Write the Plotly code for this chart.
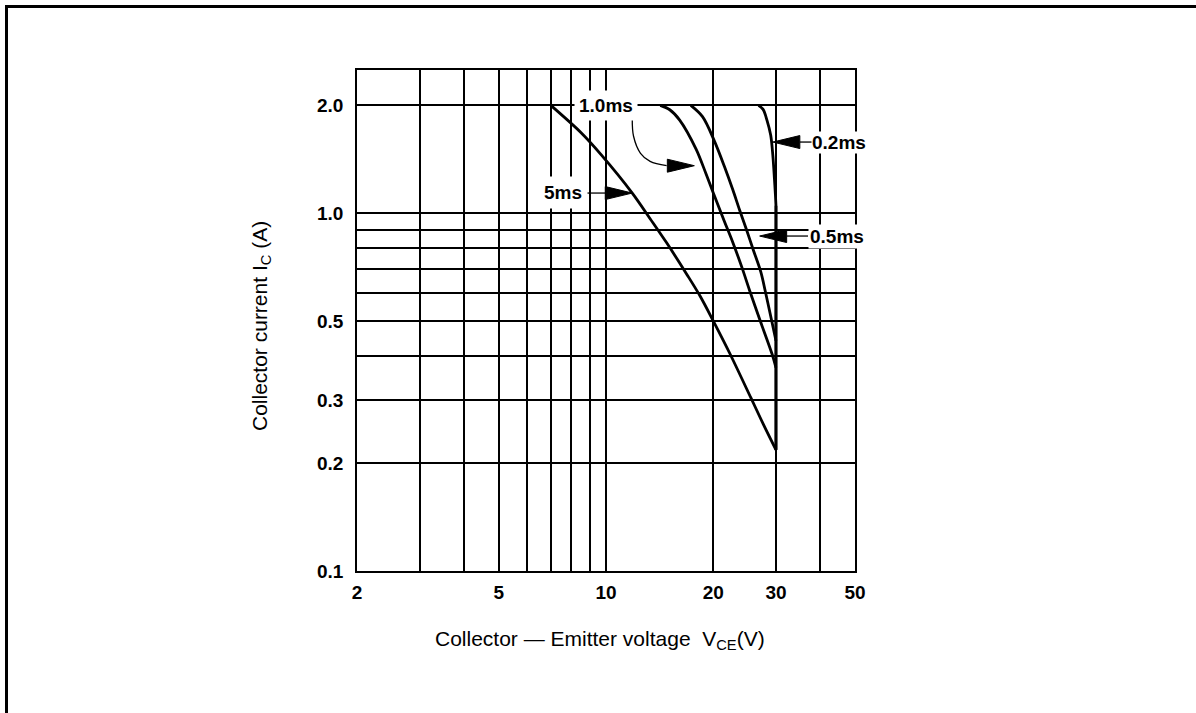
import numpy as np
import plotly.graph_objects as go

# ---------------- data ----------------
v_5ms = [7.0, 8.5, 9.7, 11.85, 13.3, 14.8, 16.9, 18.4, 20.0, 22.3, 25.5, 27.7, 30.0]
i_5ms = [2.0, 1.68, 1.455, 1.138, 0.965, 0.826, 0.672, 0.585, 0.50, 0.404, 0.305, 0.256, 0.218]

v_1ms = [14.2, 15.1, 16.1, 17.9, 19.05, 20.1, 21.5, 22.7, 24.1, 25.3, 27.0, 29.3, 30.0]
i_1ms = [2.0, 1.945, 1.82, 1.51, 1.295, 1.125, 0.948, 0.828, 0.703, 0.608, 0.505, 0.402, 0.37]

v_05ms = [17.3, 18.66, 20.1, 21.5, 22.7, 23.7, 24.8, 25.9, 27.2, 28.0, 29.0, 30.0]
i_05ms = [2.0, 1.86, 1.60, 1.35, 1.162, 1.022, 0.899, 0.79, 0.685, 0.605, 0.515, 0.44]

v_02ms = [26.8, 27.6, 28.3, 29.0, 29.4, 29.7, 29.9, 30.0]
i_02ms = [2.0, 1.95, 1.82, 1.65, 1.45, 1.25, 1.12, 1.05]

v_limit = [30.0, 30.0]
i_limit = [1.05, 0.218]

x_grid = [2, 3, 4, 5, 6, 7, 8, 9, 10, 20, 30, 40, 50]
x_text = ["2", "", "", "5", "", "", "", "", "10", "20", "30", "", "50"]
y_grid = [0.1, 0.2, 0.3, 0.4, 0.5, 0.6, 0.7, 0.8, 0.9, 1.0, 2.0]
y_text = ["0.1", "0.2", "0.3", "", "0.5", "", "", "", "", "1.0", "2.0"]

# curve labels: text, x, y
label_text = ["1.0ms", "5ms", "0.2ms", "0.5ms"]
label_x = [10.0, 7.55, 45.1, 44.5]
label_y = [2.0, 1.145, 1.58, 0.863]
label_pad = [4, 5, 0, 1]

# straight arrows: (tail, tip) in data units
arrow_tail = [(8.8, 1.138), (37.9, 1.58), (36.9, 0.863)]
arrow_tip = [(11.85, 1.138), (29.4, 1.58), (27.0, 0.863)]
# curved arrow for 1.0ms
curve_arrow_v = [11.85, 11.95, 12.5, 13.3, 14.8]
curve_arrow_i = [1.84, 1.64, 1.47, 1.395, 1.357]
curve_arrow_tip = (17.7, 1.357)

# ---------------- layout geometry ----------------
W, H = 1196, 713
L_M, R_M, T_M, B_M = 357, 341, 70, 142
PW, PH = W - L_M - R_M, H - T_M - B_M
XR = [np.log10(2), np.log10(50)]
YR = [-1.0, 0.4]
kx = (XR[1] - XR[0]) / PW
ky = (YR[1] - YR[0]) / PH

FONT = "Liberation Sans, Arial, Helvetica, sans-serif"

fig = go.Figure()

curve_style = dict(color="black", width=2.8, shape="spline", smoothing=0.9)
for v, i in [(v_5ms, i_5ms), (v_1ms, i_1ms), (v_05ms, i_05ms), (v_02ms, i_02ms)]:
    fig.add_trace(go.Scatter(x=v, y=i, mode="lines", line=curve_style,
                             hoverinfo="skip", showlegend=False))
fig.add_trace(go.Scatter(x=v_limit, y=i_limit, mode="lines",
                         line=dict(color="black", width=3.2),
                         hoverinfo="skip", showlegend=False))


def head(tip, tail, hl=27, hw=13):
    tx, ty = np.log10(tip[0]) / kx, np.log10(tip[1]) / ky
    sx, sy = np.log10(tail[0]) / kx, np.log10(tail[1]) / ky
    d = np.hypot(tx - sx, ty - sy)
    ux, uy = (tx - sx) / d, (ty - sy) / d
    bx, by = tx - hl * ux, ty - hl * uy
    nx, ny = -uy, ux
    px = [tx, bx + hw / 2 * nx, bx - hw / 2 * nx, tx]
    py = [ty, by + hw / 2 * ny, by - hw / 2 * ny, ty]
    xs = [10 ** (p * kx) for p in px]
    ys = [10 ** (p * ky) for p in py]
    base = (10 ** (bx * kx), 10 ** (by * ky))
    return xs, ys, base


def add_head(xs, ys):
    fig.add_trace(go.Scatter(x=xs, y=ys, mode="lines", fill="toself",
                             fillcolor="black", line=dict(color="black", width=1),
                             hoverinfo="skip", showlegend=False))


for tail, tip in zip(arrow_tail, arrow_tip):
    xs, ys, base = head(tip, tail)
    fig.add_trace(go.Scatter(x=[tail[0], base[0]], y=[tail[1], base[1]], mode="lines",
                             line=dict(color="black", width=1.3),
                             hoverinfo="skip", showlegend=False))
    add_head(xs, ys)

xs, ys, base = head(curve_arrow_tip, (curve_arrow_v[-2], curve_arrow_tip[1]))
fig.add_trace(go.Scatter(x=curve_arrow_v, y=curve_arrow_i, mode="lines",
                         line=dict(color="black", width=1.3, shape="spline", smoothing=1.0),
                         hoverinfo="skip", showlegend=False))
add_head(xs, ys)

annotations = []
for t, x, y, p in zip(label_text, label_x, label_y, label_pad):
    annotations.append(dict(text=t, x=np.log10(x), y=np.log10(y), xref="x", yref="y",
                            showarrow=False, bgcolor="white", borderpad=p,
                            font=dict(family=FONT, size=19, color="black", weight="bold")))

annotations.append(dict(text="Collector current I<sub>C</sub> (A)", textangle=-90,
                        x=(261 - L_M) / PW, y=(571 - 326) / PH, xref="paper", yref="paper",
                        showarrow=False, xanchor="center", yanchor="middle",
                        font=dict(family=FONT, size=21, color="black")))
annotations.append(dict(text="Collector \u2014 Emitter voltage  V<sub>CE</sub>(V)",
                        x=(600 - L_M) / PW, y=(571 - 640) / PH, xref="paper", yref="paper",
                        showarrow=False, xanchor="center", yanchor="middle",
                        font=dict(family=FONT, size=21, color="black")))

axis_common = dict(type="log", showgrid=True, gridcolor="black", gridwidth=1.5,
                   showline=True, linecolor="black", linewidth=1.6, mirror=True,
                   ticks="", zeroline=False,
                   tickfont=dict(family=FONT, size=19, color="black", weight="bold"))

fig.update_layout(
    width=W, height=H,
    margin=dict(l=L_M, r=R_M, t=T_M, b=B_M, pad=0),
    paper_bgcolor="white", plot_bgcolor="white",
    showlegend=False,
    xaxis=dict(range=XR, tickmode="array", tickvals=x_grid, ticktext=x_text,
               ticklabelstandoff=3, **axis_common),
    yaxis=dict(range=YR, tickmode="array", tickvals=y_grid, ticktext=y_text,
               ticklabelstandoff=8, **axis_common),
    annotations=annotations,
    shapes=[
        dict(type="line", xref="paper", yref="paper",
             x0=(5 - L_M) / PW, x1=(W + 5 - L_M) / PW,
             y0=(571 - 6.5) / PH, y1=(571 - 6.5) / PH,
             line=dict(color="black", width=3)),
        dict(type="line", xref="paper", yref="paper",
             x0=(6.5 - L_M) / PW, x1=(6.5 - L_M) / PW,
             y0=(571 - H - 5) / PH, y1=(571 - 5) / PH,
             line=dict(color="black", width=3)),
    ],
)

fig.write_html("out.html", config={"displayModeBar": False},
               post_script="document.body.style.margin='0px';document.body.style.overflow='hidden';")
